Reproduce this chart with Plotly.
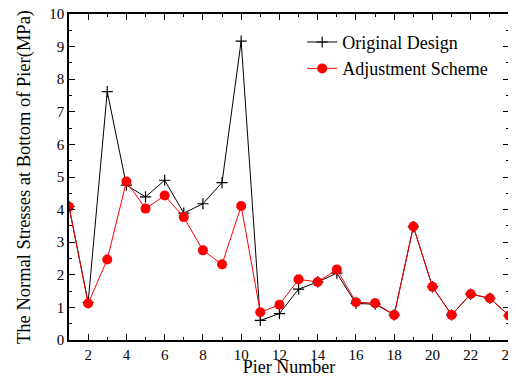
import plotly.graph_objects as go

piers = list(range(1, 25))
original = [4.1, 1.15, 7.62, 4.75, 4.39, 4.9, 3.89, 4.18, 4.83, 9.17, 0.6, 0.81,
            1.56, 1.78, 2.05, 1.12, 1.1, 0.77, 3.48, 1.63, 0.77, 1.41, 1.28, 0.75]
adjusted = [4.09, 1.12, 2.47, 4.86, 4.03, 4.43, 3.77, 2.75, 2.32, 4.11, 0.85, 1.08,
            1.86, 1.78, 2.16, 1.16, 1.13, 0.77, 3.48, 1.63, 0.77, 1.41, 1.28, 0.75]

font = "Liberation Serif"

fig = go.Figure()
fig.add_trace(go.Scatter(x=piers, y=original, mode="lines+markers", name="Original Design",
                         line=dict(color="black", width=1),
                         marker=dict(symbol="cross-thin", size=8, line=dict(color="black", width=1.2))))
fig.add_trace(go.Scatter(x=piers, y=adjusted, mode="lines+markers", name="Adjustment Scheme",
                         line=dict(color="red", width=1),
                         marker=dict(symbol="circle", size=10, color="red")))

axis_common = dict(showline=True, linecolor="black", linewidth=1.5, mirror="allticks",
                   ticks="inside", ticklen=6, tickcolor="black", showgrid=False, zeroline=False,
                   automargin=False, ticklabeloverflow="allow",
                   tickfont=dict(family=font, size=15, color="black"))

fig.update_xaxes(range=[1, 24], tickmode="array", tickvals=list(range(2, 25, 2)),
                 minor=dict(ticks="inside", dtick=1, tick0=1, ticklen=3, tickcolor="black"),
                 title=dict(text="Pier Number", font=dict(family=font, size=18, color="black"), standoff=0),
                 **axis_common)
fig.update_yaxes(range=[0, 10], dtick=1,
                 minor=dict(ticks="inside", dtick=0.5, ticklen=3, tickcolor="black"),
                 title=dict(text="The Normal Stresses at Bottom of Pier(MPa)",
                            font=dict(family=font, size=18.5, color="black"), standoff=14),
                 **axis_common)

fig.update_layout(width=508, height=369, margin=dict(l=61, r=7, t=6, b=37),
                  plot_bgcolor="white", paper_bgcolor="white",
                  legend=dict(x=0.53, y=0.97, xanchor="left", yanchor="top",
                              font=dict(family=font, size=18, color="black"),
                              bgcolor="rgba(0,0,0,0)", tracegroupgap=0, itemwidth=30),
                  font=dict(family=font))

fig.write_html("out.html")
